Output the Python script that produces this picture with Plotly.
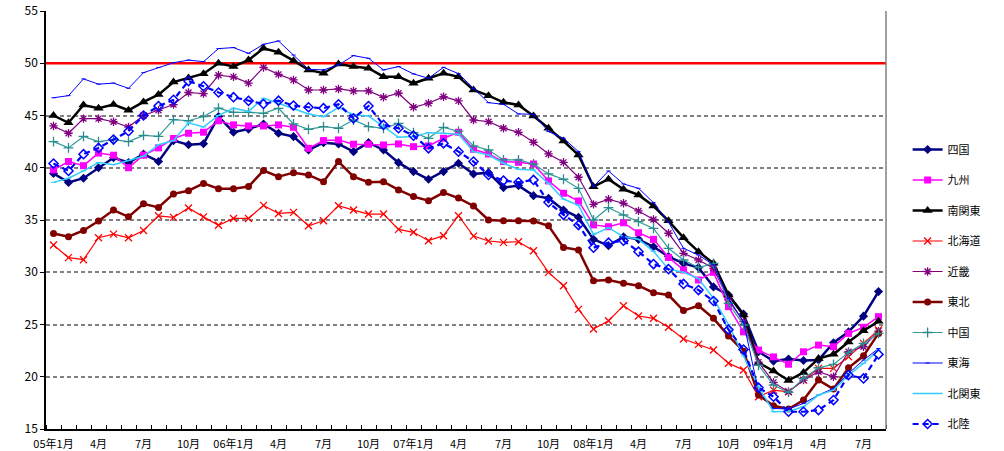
import plotly.graph_objects as go

tick_labels = ["05年1月", "4月", "7月", "10月", "06年1月", "4月", "7月", "10月",
               "07年1月", "4月", "7月", "10月", "08年1月", "4月", "7月", "10月",
               "09年1月", "4月", "7月"]

shikoku = [39.45, 38.6, 39.0, 40.0, 40.95, 40.5, 41.3, 40.6, 42.6, 42.2, 42.3, 44.9, 43.4, 43.7,
           44.19, 43.3, 42.98, 41.7, 42.4, 42.28, 41.54, 42.4, 41.7, 40.49, 39.63, 38.9, 39.63, 40.43,
           39.41, 39.53, 38.1, 38.29, 37.33, 37.08, 35.96, 35.26, 33.15, 32.54, 33.4, 33.15, 32.44, 31.5,
           30.85, 30.45, 28.6, 27.82, 26.0, 22.4, 21.5, 21.7, 21.55, 21.6, 23.25, 24.3, 25.8, 28.15]
kyushu = [39.8, 40.6, 40.2, 41.4, 41.2, 40.0, 41.2, 41.9, 42.8, 43.3, 43.4, 44.5, 44.1, 44.0,
          44.0, 44.1, 43.87, 41.86, 42.6, 42.66, 42.25, 42.25, 42.18, 42.28, 42.02, 42.09, 42.82, 43.4,
          41.77, 41.32, 40.59, 40.52, 40.36, 38.74, 37.56, 36.82, 34.53, 34.36, 34.74, 33.78, 33.15, 31.42,
          30.22, 29.26, 29.99, 26.71, 24.3, 22.55, 21.9, 21.2, 22.39, 23.03, 22.87, 24.15, 24.73, 25.75]
minami_kanto = [45.0, 44.3, 46.0, 45.7, 46.05, 45.5, 46.3, 47.0, 48.2, 48.6, 49.0, 50.0, 49.7, 50.3,
                51.43, 51.05, 50.25, 49.36, 49.04, 49.93, 49.68, 49.52, 48.72, 48.72, 48.08, 48.56, 49.04, 48.7,
                47.44, 46.9, 46.26, 46.01, 44.96, 43.78, 42.56, 41.22, 38.19, 38.9, 37.94, 37.4, 36.34, 34.92,
                33.31, 31.97, 30.85, 27.82, 25.91, 21.35, 20.55, 19.65, 20.4, 21.74, 22.15, 23.33, 24.4, 25.3]
hokkaido = [32.6, 31.4, 31.2, 33.3, 33.65, 33.3, 34.0, 35.4, 35.25, 36.15, 35.3, 34.5, 35.15, 35.15,
            36.4, 35.63, 35.73, 34.45, 34.93, 36.37, 35.95, 35.57, 35.57, 34.1, 33.82, 33.02, 33.5, 35.41,
            33.46, 32.99, 32.86, 32.92, 32.06, 29.99, 28.71, 26.45, 24.57, 25.36, 26.8, 25.81, 25.59, 24.73,
            23.61, 23.1, 22.56, 21.3, 20.64, 18.09, 18.72, 18.56, 19.68, 20.8, 20.8, 21.91, 23.19, 24.47]
kinki = [44.0, 43.3, 44.7, 44.7, 44.4, 43.9, 45.0, 45.5, 46.05, 47.2, 47.1, 48.85, 48.7, 48.1,
         49.6, 48.94, 48.4, 47.44, 47.44, 47.54, 47.35, 47.35, 46.74, 47.13, 45.79, 46.17, 46.8, 46.4,
         44.57, 44.41, 43.78, 43.39, 42.44, 41.32, 40.52, 39.09, 36.5, 36.98, 36.6, 35.87, 35.05, 33.73,
         31.81, 31.17, 30.38, 27.35, 25.27, 21.4, 19.46, 18.56, 19.68, 20.48, 20.0, 22.39, 22.87, 24.37]
tohoku = [33.7, 33.4, 34.0, 34.9, 35.95, 35.3, 36.55, 36.2, 37.5, 37.8, 38.5, 38.0, 38.0, 38.2,
          39.73, 39.15, 39.53, 39.31, 38.67, 40.59, 39.15, 38.61, 38.67, 37.88, 37.24, 36.85, 37.62, 37.1,
          36.34, 35.0, 34.93, 34.93, 34.9, 34.45, 32.38, 32.13, 29.19, 29.25, 28.94, 28.71, 28.04, 27.82,
          26.33, 26.8, 25.59, 23.9, 22.45, 18.25, 17.22, 16.91, 17.77, 19.68, 18.82, 20.86, 22.0, 24.15]
chugoku = [42.5, 41.9, 43.0, 42.5, 42.7, 42.5, 43.1, 43.0, 44.6, 44.5, 44.9, 45.7, 45.3, 45.3,
           45.21, 45.69, 44.19, 43.68, 43.94, 43.78, 44.57, 43.94, 43.78, 44.25, 43.36, 42.82, 43.87, 43.5,
           42.09, 41.7, 40.75, 40.75, 40.36, 39.41, 38.9, 38.03, 35.0, 36.18, 35.48, 34.84, 34.2, 32.29,
           31.17, 30.44, 30.85, 27.03, 24.95, 21.1, 19.2, 18.5, 19.84, 20.86, 21.18, 22.33, 23.19, 24.15]
tokai = [46.7, 46.9, 48.5, 48.0, 48.1, 47.6, 49.1, 49.6, 50.05, 50.3, 50.15, 51.4, 51.5, 50.95,
         51.81, 52.13, 50.79, 49.42, 49.36, 49.84, 50.73, 50.47, 49.36, 49.68, 48.98, 48.56, 49.61, 49.0,
         47.6, 46.23, 46.07, 45.15, 45.12, 43.46, 42.82, 41.54, 38.19, 39.69, 38.45, 38.03, 36.66, 34.8,
         32.29, 31.65, 30.7, 27.5, 25.27, 18.6, 16.97, 16.91, 17.45, 18.25, 18.88, 20.32, 21.6, 22.7]
kita_kanto = [38.6, 39.0, 39.7, 40.5, 40.3, 40.7, 41.1, 42.2, 42.6, 44.3, 43.9, 45.0, 45.7, 45.4,
              46.65, 46.17, 45.63, 45.15, 44.89, 45.79, 45.05, 44.96, 43.94, 42.91, 42.98, 43.36, 43.3, 43.2,
              41.54, 41.22, 40.43, 39.85, 39.79, 38.51, 37.01, 36.4, 33.62, 34.26, 33.4, 33.15, 32.0, 30.3,
              30.0, 29.4, 27.5, 25.0, 22.0, 19.04, 16.65, 16.71, 17.13, 18.25, 18.72, 20.16, 21.28, 22.55]
hokuriku = [40.4, 39.7, 41.3, 41.9, 42.7, 43.5, 45.0, 45.9, 46.5, 48.3, 47.8, 47.2, 46.75, 46.4,
            46.1, 46.42, 45.95, 45.79, 45.7, 46.07, 44.73, 45.91, 44.1, 43.78, 43.07, 41.86, 42.34, 41.54,
            40.59, 39.31, 38.77, 38.61, 38.83, 36.7, 35.5, 34.52, 32.35, 32.83, 33.02, 31.97, 30.78, 30.3,
            28.88, 28.3, 27.25, 24.5, 22.6, 18.95, 18.09, 16.65, 16.65, 16.81, 17.77, 20.16, 19.84, 22.14]

threshold = 50

n = len(shikoku)
x = list(range(n))

series = [
    ("四国", shikoku, dict(color="#000080", width=2.5), dict(symbol="diamond", size=7, color="#000080")),
    ("九州", kyushu, dict(color="#FF00FF", width=1.5), dict(symbol="square", size=7, color="#FF00FF")),
    ("南関東", minami_kanto, dict(color="#000000", width=2.5), dict(symbol="triangle-up", size=9, color="#000000")),
    ("北海道", hokkaido, dict(color="#FF0000", width=1.2), dict(symbol="x-thin-open", size=7, color="#FF0000", line=dict(width=1.3, color="#FF0000"))),
    ("近畿", kinki, dict(color="#800080", width=1.2), dict(symbol="asterisk-open", size=7, color="#800080", line=dict(width=1.3, color="#800080"))),
    ("東北", tohoku, dict(color="#800000", width=2.5), dict(symbol="circle", size=7, color="#800000")),
    ("中国", chugoku, dict(color="#339999", width=1.2), dict(symbol="cross-thin-open", size=7, color="#2A8C8C", line=dict(width=1.3, color="#2A8C8C"))),
    ("東海", tokai, dict(color="#0000FF", width=1.0), dict(symbol="line-ew-open", size=3, color="#0000FF", line=dict(width=1, color="#0000FF"))),
    ("北関東", kita_kanto, dict(color="#33CCFF", width=1.5), dict(symbol="line-ew-open", size=4, color="#33CCFF", line=dict(width=1, color="#33CCFF"))),
    ("北陸", hokuriku, dict(color="#0000FF", width=2.2, dash="6px,4px"), dict(symbol="diamond-open", size=7, color="#0000FF", line=dict(width=1.5, color="#0000FF"))),
]

fig = go.Figure()

fig.add_trace(go.Scatter(x=[-0.5, n - 0.5], y=[threshold, threshold], mode="lines",
                         line=dict(color="#FF0000", width=2.5), showlegend=False, hoverinfo="skip"))

for i, (name, vals, line, marker) in enumerate(series):
    fig.add_trace(go.Scatter(x=x, y=vals, name=name, mode="lines+markers",
                             line=line, marker=marker, legendgroup=f"g{i}"))

fig.update_layout(
    width=1004, height=451,
    margin=dict(l=46, r=118, t=11, b=22, autoexpand=False),
    paper_bgcolor="white", plot_bgcolor="white",
    font=dict(family="Noto Sans CJK JP, sans-serif", size=11, color="black"),
    legend=dict(xref="container", yref="container", x=0.904, xanchor="left",
                y=1 - 135 / 451, yanchor="top", maxheight=1.0,
                traceorder="grouped", tracegroupgap=11.5,
                font=dict(size=11), itemwidth=30, bgcolor="rgba(0,0,0,0)"),
    showlegend=True,
)

fig.update_xaxes(
    range=[-0.5, n - 0.5], automargin=False,
    tickmode="array", tickvals=list(range(0, n, 3)), ticktext=tick_labels,
    ticks="", showgrid=False, zeroline=False,
    showline=True, linecolor="black", linewidth=1.5,
    tickfont=dict(size=11), ticklabelstandoff=4,
    minor=dict(tickmode="array", tickvals=[k - 0.5 for k in range(n + 1)],
               ticks="inside", ticklen=4, tickcolor="black", tickwidth=1, showgrid=False),
)

fig.update_yaxes(
    range=[15, 55], tickmode="linear", tick0=15, dtick=5, automargin=False,
    showgrid=True, gridcolor="#808080", griddash="4px,3px", gridwidth=1.5,
    zeroline=False, showline=True, linecolor="black", linewidth=1.5,
    ticks="outside", ticklen=4, tickcolor="black",
    tickfont=dict(size=12),
)

# right border of plot area
fig.add_shape(type="line", xref="paper", yref="paper", x0=1, x1=1, y0=0, y1=1,
              line=dict(color="#808080", width=1.5))

fig.write_html("out.html", config={"displayModeBar": False},
               post_script="document.body.style.margin='0px';")
